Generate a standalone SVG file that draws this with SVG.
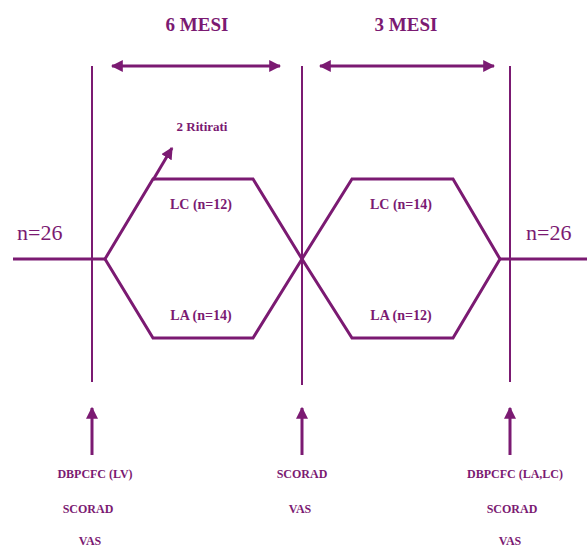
<svg xmlns="http://www.w3.org/2000/svg" width="587" height="549" viewBox="0 0 587 549">
  <defs>
    <marker id="head" viewBox="0 0 10 10" refX="9" refY="5" markerWidth="4" markerHeight="4" orient="auto-start-reverse" markerUnits="strokeWidth">
      <path d="M0,0 L10,5 L0,10 Z" fill="#7b1a72"/>
    </marker>
  </defs>
  <style>
    .ln { stroke: #7b1a72; fill: none; }
    .thin { stroke-width: 2; }
    .thick { stroke-width: 3; }
    .t { font-family: "Liberation Serif", "DejaVu Serif", serif; font-weight: bold; fill: #7b1a72; text-anchor: middle; }
    .big { font-size: 19px; }
    .mid { font-size: 14px; }
    .sm { font-size: 12px; }
    .xs { font-size: 13px; }
    .n { font-family: "Liberation Serif", "DejaVu Serif", serif; font-size: 22px; fill: #7b1a72; }
  </style>

  <!-- timeline axes and arrows -->
  <g id="connectors">
    <line class="ln thin" x1="92" y1="66" x2="92" y2="382"/>
    <line class="ln thin" x1="302" y1="66" x2="302" y2="385"/>
    <line class="ln thin" x1="510" y1="66" x2="510" y2="382"/>
    <line class="ln thick" x1="13" y1="259" x2="105" y2="259"/>
    <line class="ln thick" x1="500" y1="259" x2="587" y2="259"/>
    <line class="ln thick" x1="112" y1="66" x2="280" y2="66" marker-start="url(#head)" marker-end="url(#head)"/>
    <line class="ln thick" x1="320" y1="66" x2="494" y2="66" marker-start="url(#head)" marker-end="url(#head)"/>
    <line class="ln thick" x1="153" y1="180" x2="172" y2="148" marker-end="url(#head)"/>
    <line class="ln thick" x1="92" y1="455" x2="92" y2="408" marker-end="url(#head)"/>
    <line class="ln thick" x1="302" y1="455" x2="302" y2="408" marker-end="url(#head)"/>
    <line class="ln thick" x1="510" y1="455" x2="510" y2="408" marker-end="url(#head)"/>
  </g>

  <g id="period-6">
    <text class="t big" x="197" y="31">6 MESI</text>
  </g>
  <g id="period-3">
    <text class="t big" x="406" y="31">3 MESI</text>
  </g>

  <g id="withdrawn">
    <text class="t xs" x="202" y="131">2 Ritirati</text>
  </g>

  <g id="phase-1">
    <polygon class="ln thick" points="105,259 153,179 253,179 302,259 253,338 153,338"/>
    <text class="t mid" x="201" y="209">LC (n=12)</text>
    <text class="t mid" x="201" y="320">LA (n=14)</text>
  </g>

  <g id="phase-2">
    <polygon class="ln thick" points="302,259 352,179 453,179 500,259 453,338 352,338"/>
    <text class="t mid" x="401" y="209">LC (n=14)</text>
    <text class="t mid" x="401" y="320">LA (n=12)</text>
  </g>

  <g id="start">
    <text class="n" x="17" y="240">n=26</text>
  </g>
  <g id="end">
    <text class="n" x="526" y="240">n=26</text>
  </g>

  <g id="visit-0">
    <text class="t sm" x="95" y="478">DBPCFC (LV)</text>
    <text class="t sm" x="88" y="513">SCORAD</text>
    <text class="t sm" x="90" y="545">VAS</text>
  </g>
  <g id="visit-1">
    <text class="t sm" x="302" y="478">SCORAD</text>
    <text class="t sm" x="300" y="513">VAS</text>
  </g>
  <g id="visit-2">
    <text class="t sm" x="515" y="478">DBPCFC (LA,LC)</text>
    <text class="t sm" x="512" y="513">SCORAD</text>
    <text class="t sm" x="510" y="545">VAS</text>
  </g>
</svg>
